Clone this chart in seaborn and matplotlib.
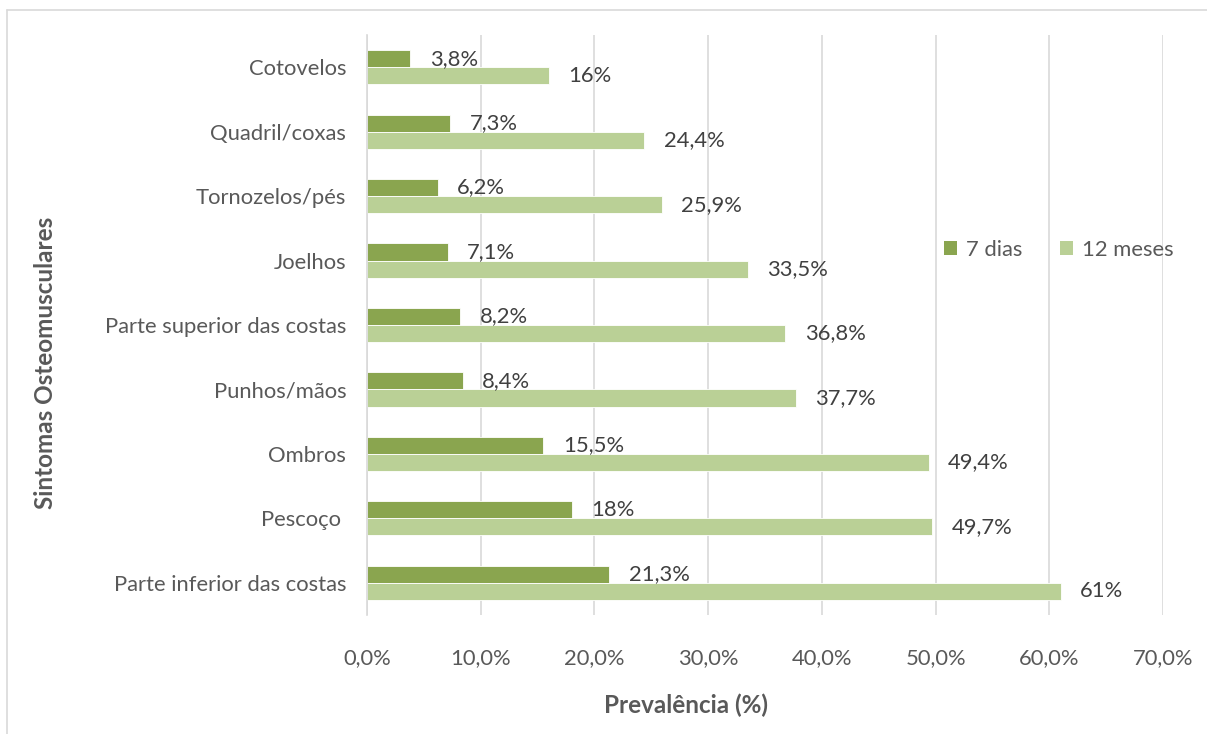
import matplotlib
matplotlib.use("Agg")
import matplotlib.pyplot as plt
import seaborn as sns
import pandas as pd
from matplotlib.lines import Line2D
from matplotlib.patches import Patch

# Musculoskeletal symptom prevalence, by body region
regioes = [
    "Cotovelos",
    "Quadril/coxas",
    "Tornozelos/pés",
    "Joelhos",
    "Parte superior das costas",
    "Punhos/mãos",
    "Ombros",
    "Pescoço ",
    "Parte inferior das costas",
]
sete_dias = [3.8, 7.3, 6.2, 7.1, 8.2, 8.4, 15.5, 18.0, 21.3]
doze_meses = [16.0, 24.4, 25.9, 33.5, 36.8, 37.7, 49.4, 49.7, 61.0]
periodos = ["7 dias", "12 meses"]
x_ticks = [0, 10, 20, 30, 40, 50, 60, 70]

cor_escura = "#8AA54F"
cor_clara = "#BAD096"
cinza_texto = "#595959"
cinza_grade = "#D9D9D9"

df = pd.DataFrame({
    "Região": regioes * 2,
    "Período": [periodos[0]] * len(regioes) + [periodos[1]] * len(regioes),
    "Valor": sete_dias + doze_meses,
})

sns.set_theme(style="white")
plt.rcParams["font.family"] = ["Lato", "DejaVu Sans"]
fs = 15.8
fs_titulo = 17.5

fig = plt.figure(figsize=(12.07, 7.34), dpi=100)
ax = fig.add_axes([367 / 1207, 1 - 615 / 734, (1163 - 367) / 1207, (615 - 35) / 734])

sns.barplot(
    data=df, y="Região", x="Valor", hue="Período", order=regioes,
    hue_order=periodos, palette=[cor_escura, cor_clara], orient="h",
    width=0.53, ax=ax, legend=False, edgecolor="white", linewidth=0.6,
    saturation=1,
)

ax.set_xlim(0, 70)
ax.set_ylim(len(regioes) - 0.5, -0.5)
ax.set_xticks(x_ticks)
ax.set_xticklabels([f"{t:.1f}%".replace(".", ",") for t in x_ticks],
                   fontsize=fs, color=cinza_texto)
ax.tick_params(axis="x", length=0, pad=24)
ax.tick_params(axis="y", length=0, pad=15, labelsize=fs, labelcolor=cinza_texto)
ax.grid(axis="x", color=cinza_grade, linewidth=1.2)
ax.set_axisbelow(True)
for s in ["top", "right", "bottom"]:
    ax.spines[s].set_visible(False)
ax.spines["left"].set_color(cinza_grade)
ax.spines["left"].set_linewidth(1.2)


def rotulo(v):
    if float(v).is_integer():
        return f"{int(v)}%"
    return f"{v:.1f}%".replace(".", ",")


for cont in ax.containers:
    ax.bar_label(cont, labels=[rotulo(p.get_width()) for p in cont],
                 padding=14, fontsize=fs, color="#404040")

ax.set_xlabel("Prevalência (%)", fontsize=fs_titulo, fontweight="bold", color=cinza_texto)
ax.xaxis.set_label_coords((686 - 367) / (1163 - 367), -(705 - 615) / (615 - 35))
ax.set_ylabel("Sintomas Osteomusculares", fontsize=fs_titulo, fontweight="bold",
              color=cinza_texto)
ax.yaxis.set_label_coords(-(367 - 46) / (1163 - 367), (615 - 363) / (615 - 35))
ax.xaxis.label.set_va("center")
ax.yaxis.label.set_va("center")

handles = [Patch(facecolor=cor_escura, edgecolor="none"),
           Patch(facecolor=cor_clara, edgecolor="none")]
fig.legend(handles, periodos, loc="center left", bbox_to_anchor=(944 / 1207, 1 - 250 / 734),
           ncol=2, frameon=False, fontsize=fs, labelcolor=cinza_texto,
           handlelength=0.6, handleheight=0.6, handletextpad=0.4, columnspacing=1.7,
           borderaxespad=0, borderpad=0)

# outer chart frame
fig.add_artist(Line2D([7 / 1207, 1], [1 - 10 / 734] * 2, transform=fig.transFigure,
                      color=cinza_grade, linewidth=1.2))
fig.add_artist(Line2D([7 / 1207] * 2, [0, 1 - 10 / 734], transform=fig.transFigure,
                      color=cinza_grade, linewidth=1.2))

fig.savefig("out.png", dpi=100)
